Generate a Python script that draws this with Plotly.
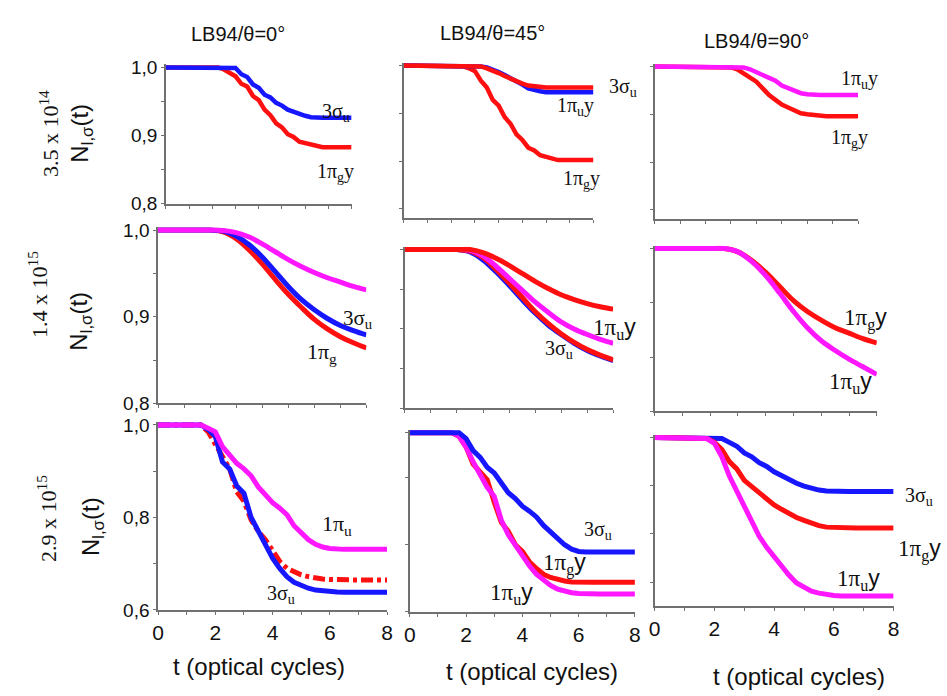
import plotly.graph_objects as go

W, H = 947, 696

# ---------------- data ----------------
T = [0, 0.25, 0.5, 0.75, 1, 1.25, 1.5, 1.75, 2, 2.25, 2.5, 2.75, 3, 3.25, 3.5, 3.75,
     4, 4.25, 4.5, 4.75, 5, 5.25, 5.5, 5.75, 6, 6.25, 6.5, 6.75, 7, 7.25, 7.5, 7.75, 8]
T2 = [0, 0.5, 1, 1.5, 2, 2.5, 3, 3.5, 4, 4.5, 5, 5.5, 6, 6.5, 7, 7.5, 8]

# Row 1 : 3.5 x 10^14
r1c1_3su = [1, 1, 1, 1, 1, 1, 1, 1, 1, 1, 1, 1,
            0.999, 0.990, 0.986, 0.975, 0.970, 0.960, 0.956, 0.948, 0.944, 0.938, 0.935, 0.931, 0.929, 0.927, 0.926,
            0.926, 0.926, 0.926, 0.926, 0.926, 0.926]
r1c1_1pgy = [1, 1, 1, 1, 1, 1, 1, 1, 1, 1,
             0.997, 0.992, 0.987, 0.976, 0.972, 0.958, 0.952, 0.938, 0.930, 0.918, 0.912, 0.902, 0.898, 0.891,
             0.889, 0.886, 0.884, 0.883,
             0.883, 0.883, 0.883, 0.883, 0.883]
r1c2_3su = [1, 1, 1, 1, 1, 1, 1, 1, 1, 1, 1, 1, 1,
            0.999, 0.997, 0.995, 0.992, 0.989, 0.986, 0.984, 0.981, 0.979, 0.978, 0.977,
            0.977, 0.977, 0.977, 0.977, 0.977, 0.977, 0.977, 0.977, 0.977]
r1c2_1puy = [1, 1, 1, 1, 1, 1, 1, 1, 1, 1, 1, 1, 1,
             0.999, 0.998, 0.996, 0.993, 0.990, 0.987, 0.984, 0.980, 0.976, 0.974, 0.973,
             0.972, 0.972, 0.972, 0.972, 0.972, 0.972, 0.972, 0.972, 0.972]
r1c2_1pgy = [1, 1, 1, 1, 1, 1, 1, 1, 1, 1,
             0.999, 0.997, 0.994, 0.984, 0.977, 0.964, 0.958, 0.946, 0.939, 0.928, 0.922, 0.914, 0.911, 0.906,
             0.904, 0.902, 0.901, 0.901,
             0.901, 0.901, 0.901, 0.901, 0.901]
r1c3_1puy = [1, 1, 1, 1, 1, 1, 1, 1, 1, 1, 1, 1, 1, 1,
             0.999, 0.997, 0.994, 0.991, 0.987, 0.985, 0.980, 0.977, 0.974, 0.972, 0.971, 0.970,
             0.970, 0.970, 0.970, 0.970, 0.970, 0.970, 0.970]
r1c3_1pgy = [1, 1, 1, 1, 1, 1, 1, 1, 1, 1, 1, 1,
             0.999, 0.997, 0.993, 0.988, 0.984, 0.977, 0.970, 0.965, 0.960, 0.957, 0.954, 0.951, 0.950, 0.949, 0.948,
             0.948, 0.948, 0.948, 0.948, 0.948, 0.948]

# Row 2 : 1.4 x 10^15 (smooth, sampled every half cycle)
r2c1_1pu = [1, 1, 1, 1, 1, 0.9995, 0.997, 0.992, 0.984, 0.975, 0.966, 0.958, 0.951, 0.945, 0.940, 0.935, 0.931]
r2c1_3su = [1, 1, 1, 1, 1, 0.999, 0.993, 0.983, 0.969, 0.952, 0.935, 0.920, 0.908, 0.898, 0.890, 0.884, 0.879]
r2c1_1pg = [1, 1, 1, 1, 1, 0.998, 0.990, 0.977, 0.961, 0.943, 0.926, 0.911, 0.897, 0.886, 0.877, 0.870, 0.864]
r2c2_top = [1, 1, 1, 1, 1, 1, 0.996, 0.989, 0.980, 0.970, 0.960, 0.951, 0.943, 0.937, 0.932, 0.928, 0.925]
r2c2_1puy = [1, 1, 1, 1, 1, 0.999, 0.992, 0.979, 0.964, 0.949, 0.934, 0.921, 0.909, 0.900, 0.893, 0.887, 0.882]
r2c2_1pg = [1, 1, 1, 1, 1, 0.998, 0.990, 0.975, 0.958, 0.940, 0.922, 0.907, 0.894, 0.883, 0.874, 0.867, 0.861]
r2c2_3su = [1, 1, 1, 1, 1, 0.997, 0.987, 0.972, 0.955, 0.937, 0.920, 0.905, 0.893, 0.882, 0.873, 0.866, 0.860]
r2c3_1puy = [1, 1, 1, 1, 1, 1, 0.997, 0.988, 0.975, 0.959, 0.942, 0.927, 0.915, 0.906, 0.898, 0.891, 0.884]
r2c3_1pgy = [1, 1, 1, 1, 1, 1, 0.997, 0.989, 0.978, 0.965, 0.952, 0.942, 0.934, 0.927, 0.922, 0.917, 0.913]

# Row 3 : 2.9 x 10^15
r3c1_1pu = [1, 1, 1, 1, 1, 1, 1,
            0.993, 0.985, 0.953, 0.935, 0.917, 0.905, 0.890, 0.866, 0.848, 0.832, 0.820, 0.806, 0.782, 0.768,
            0.752, 0.742, 0.736, 0.733, 0.731,
            0.731, 0.731, 0.731, 0.731, 0.731, 0.731, 0.731]
r3c1_3su = [1, 1, 1, 1, 1, 1, 1,
            0.990, 0.975, 0.920, 0.905, 0.868, 0.852, 0.800, 0.770, 0.740, 0.712, 0.690, 0.672, 0.660, 0.652,
            0.647, 0.643, 0.641, 0.640, 0.639,
            0.6385, 0.6385, 0.6385, 0.6385, 0.6385, 0.6385, 0.6385]
r3c1_red = [1, 1, 1, 1, 1, 1, 1,
            0.985, 0.960, 0.930, 0.905, 0.855, 0.835, 0.795, 0.770, 0.752, 0.728, 0.705, 0.690, 0.682, 0.676,
            0.672, 0.669, 0.667, 0.666, 0.665,
            0.665, 0.665, 0.665, 0.665, 0.665, 0.665, 0.665]
r3c2_3su = [1, 1, 1, 1, 1, 1, 1, 1,
            0.987, 0.960, 0.945, 0.923, 0.910, 0.890, 0.866, 0.853, 0.836, 0.825, 0.812, 0.793, 0.778, 0.763,
            0.750, 0.740, 0.735, 0.734,
            0.734, 0.734, 0.734, 0.734, 0.734, 0.734, 0.734]
r3c2_1pgy = [1, 1, 1, 1, 1, 1, 1,
             0.992, 0.968, 0.930, 0.912, 0.895, 0.845, 0.800, 0.780, 0.750, 0.735, 0.712, 0.697, 0.684, 0.677,
             0.672, 0.669, 0.667, 0.666, 0.666,
             0.666, 0.666, 0.666, 0.666, 0.666, 0.666, 0.666]
r3c2_1puy = [1, 1, 1, 1, 1, 1, 1,
             0.992, 0.968, 0.935, 0.905, 0.878, 0.858, 0.805, 0.772, 0.748, 0.722, 0.703, 0.684, 0.670, 0.659,
             0.651, 0.646, 0.643, 0.641, 0.640,
             0.640, 0.640, 0.640, 0.640, 0.640, 0.640, 0.640]
r3c3_3su = [1, 1, 1, 1, 1, 1, 1, 1, 1,
            0.998, 0.990, 0.982, 0.968, 0.960, 0.948, 0.940, 0.929, 0.921, 0.912, 0.905, 0.899, 0.894, 0.891, 0.889,
            0.888, 0.888, 0.888, 0.888, 0.888, 0.888, 0.888, 0.888, 0.888]
r3c3_1pgy = [1, 1, 1, 1, 1, 1, 1,
             0.998, 0.990, 0.975, 0.950, 0.935, 0.911, 0.898, 0.884, 0.872, 0.860, 0.851, 0.842, 0.834, 0.828,
             0.822, 0.817, 0.814, 0.813, 0.812,
             0.812, 0.812, 0.812, 0.812, 0.812, 0.812, 0.812]
r3c3_1puy = [1, 1, 1, 1, 1, 1, 1,
             0.998, 0.988, 0.960, 0.920, 0.888, 0.858, 0.822, 0.795, 0.772, 0.752, 0.732, 0.714, 0.698, 0.688,
             0.681, 0.677, 0.674, 0.672, 0.671,
             0.671, 0.671, 0.671, 0.671, 0.671, 0.671, 0.671]

# tick values
X_ALL_TICKS = [0, 1, 2, 3, 4, 5, 6, 7, 8]
X_LABEL_TICKS = [0, 2, 4, 6, 8]
X_MINOR_TICKS = [1, 3, 5, 7]

COL_TITLES = ["LB94/θ=0°", "LB94/θ=45°", "LB94/θ=90°"]
ROW_LABELS = ["3.5 x 10<sup>14</sup>", "1.4 x 10<sup>15</sup>", "2.9 x 10<sup>15</sup>"]

# ---------------- style ----------------
RED = "#ff1010"
BLUE = "#1616ff"
MAG = "#ff18ff"
AX = "#707070"
SANS = "Liberation Sans, Arial, sans-serif"
SERIF = "Liberation Serif, Times New Roman, serif"

# panel geometry in pixels: (x0, x1, y_top(=1.0), y_bottom), ymin,
# labelled y ticks (values, texts), minor y ticks, show x labels
panels = [
    ((162, 350, 62, 202), 0.80, ([0.8, 0.9, 1.0], ["0,8", "0,9", "1,0"]), [0.85, 0.95], False),
    ((403, 595, 60, 217), 0.84, None, [0.85, 0.9, 0.95, 1.0], False),
    ((657, 863, 61, 218), 0.84, None, [0.85, 0.9, 0.95, 1.0], False),
    ((154, 365, 229, 407), 0.80, ([0.8, 0.9, 1.0], ["0,8", "0,9", "1,0"]), [0.85, 0.95], False),
    ((404, 615, 249, 412), 0.80, None, [0.8, 0.85, 0.9, 0.95, 1.0], False),
    ((657, 882, 248, 415), 0.85, None, [0.85, 0.9, 0.95, 1.0], False),
    ((154, 386, 429, 619), 0.60, ([0.6, 0.8, 1.0], ["0,6", "0,8", "1,0"]), [0.7, 0.9], True),
    ((409, 637, 437, 621), 0.60, None, [0.6, 0.75, 0.9, 1.0], True),
    ((657, 899, 442, 615), 0.65, None, [0.7, 0.8, 0.9, 1.0], True),
]

fig = go.Figure()

# traces: (panel index, x, y, color, width, dash)
traces = [
    (0, T, r1c1_1pgy, RED, 4.5, None),
    (0, T, r1c1_3su, BLUE, 4.5, None),
    (1, T, r1c2_1pgy, RED, 4.5, None),
    (1, T, r1c2_1puy, BLUE, 4.5, None),
    (1, T, r1c2_3su, RED, 4.5, None),
    (2, T, r1c3_1pgy, RED, 4.5, None),
    (2, T, r1c3_1puy, MAG, 4.5, None),
    (3, T2, r2c1_1pg, RED, 5, None),
    (3, T2, r2c1_3su, BLUE, 5, None),
    (3, T2, r2c1_1pu, MAG, 5, None),
    (4, T2, r2c2_3su, BLUE, 5, None),
    (4, T2, r2c2_1pg, RED, 5, None),
    (4, T2, r2c2_1puy, MAG, 5, None),
    (4, T2, r2c2_top, RED, 5, None),
    (5, T2, r2c3_1pgy, RED, 5, None),
    (5, T2, r2c3_1puy, MAG, 5, None),
    (6, T, r3c1_red, RED, 5, "12px,4px,4px,4px"),
    (6, T, r3c1_3su, BLUE, 5, None),
    (6, T, r3c1_1pu, MAG, 5, None),
    (7, T, r3c2_1pgy, RED, 5, None),
    (7, T, r3c2_1puy, MAG, 5, None),
    (7, T, r3c2_3su, BLUE, 5, None),
    (8, T, r3c3_3su, BLUE, 5, None),
    (8, T, r3c3_1pgy, RED, 5, None),
    (8, T, r3c3_1puy, MAG, 5, None),
]

for p, xs, ys, col, w, dash in traces:
    sfx = "" if p == 0 else str(p + 1)
    shape = "spline" if xs is T2 else "linear"
    fig.add_trace(go.Scatter(
        x=xs, y=ys, mode="lines", xaxis="x" + sfx, yaxis="y" + sfx,
        line=dict(color=col, width=w, dash=dash, shape=shape),
        showlegend=False, hoverinfo="skip"))

PAD = 3  # px above 1.0 so flat lines are not clipped
TICK = dict(ticks="outside", ticklen=3, tickwidth=1, tickcolor=AX)
layout = {}
for i, ((x0, x1, yt, yb), ymin, ylab, yminor, xlab) in enumerate(panels):
    sfx = "" if i == 0 else str(i + 1)
    ppu = (yb - yt) / (1.0 - ymin)
    ymax = 1.0 + PAD / ppu
    xa = dict(domain=[x0 / W, x1 / W], range=[0, 8], anchor="y" + sfx,
              showline=True, linecolor=AX, linewidth=1.5,
              showgrid=False, zeroline=False, fixedrange=True, **TICK)
    if xlab:
        xa.update(tickvals=X_LABEL_TICKS, ticktext=[str(v) for v in X_LABEL_TICKS],
                  showticklabels=True, tickfont=dict(family=SANS, size=21, color="#111"),
                  minor=dict(tickvals=X_MINOR_TICKS, showgrid=False, **TICK))
    else:
        xa.update(tickvals=X_ALL_TICKS, showticklabels=False)
    ya = dict(domain=[1 - yb / H, 1 - (yt - PAD) / H], range=[ymin, ymax], anchor="x" + sfx,
              showline=True, linecolor=AX, linewidth=1.5,
              showgrid=False, zeroline=False, fixedrange=True, **TICK)
    if ylab:
        ya.update(tickvals=ylab[0], ticktext=ylab[1], showticklabels=True,
                  tickfont=dict(family=SANS, size=19, color="#111"),
                  minor=dict(tickvals=yminor, showgrid=False, **TICK))
    else:
        ya.update(tickvals=yminor, showticklabels=False)
    layout["xaxis" + sfx] = xa
    layout["yaxis" + sfx] = ya

fig.update_layout(**layout)


def P(x, y):
    return x / W, 1 - y / H


annotations = []


def ann(text, x, y, size, family, angle=0, color="#111"):
    px, py = P(x, y)
    annotations.append(dict(text=text, x=px, y=py, xref="paper", yref="paper",
                            xanchor="center", yanchor="middle", showarrow=False,
                            textangle=angle, font=dict(family=family, size=size, color=color)))


# column titles
ann(COL_TITLES[0], 235, 28, 20, SANS)
ann(COL_TITLES[1], 493, 27, 20, SANS)
ann(COL_TITLES[2], 760, 35, 20, SANS)

# row labels and y titles
ann(ROW_LABELS[0], 43, 130, 22, SERIF, -90)
ann(ROW_LABELS[1], 33, 295, 22, SERIF, -90)
ann(ROW_LABELS[2], 42, 525, 22, SERIF, -90)
NLAB = "N<sub>l,σ</sub>(t)"
ann(NLAB, 77, 130, 24, SANS, -90)
ann(NLAB, 76, 323, 24, SANS, -90)
ann(NLAB, 87, 533, 24, SANS, -90)

# x titles
ann("t (optical cycles)", 256, 677, 24, SANS)
ann("t (optical cycles)", 533, 682, 24, SANS)
ann("t (optical cycles)", 803, 687, 24, SANS)

Y = '<span style="font-family:Liberation Sans, Arial, sans-serif">y</span>'
S3 = "3σ<sub>u</sub>"
PG = "1π<sub>g</sub>"
PU = "1π<sub>u</sub>"

# curve labels
ann(S3, 334, 108, 20, SERIF)
ann(PG + "y", 334, 170, 20, SERIF)
ann(S3, 625, 83, 20, SERIF)
ann(PU + "y", 577, 102, 20, SERIF)
ann(PG + "y", 583, 177, 20, SERIF)
ann(PU + "y", 864, 74, 20, SERIF)
ann(PG + "y", 854, 135, 20, SERIF)
ann(S3, 357, 320, 21, SERIF)
ann(PG, 320, 355, 22, SERIF)
ann(PU + Y, 616, 330, 23, SERIF)
ann(S3, 560, 352, 20, SERIF)
ann(PG + Y, 871, 320, 23, SERIF)
ann(PU + Y, 855, 385, 23, SERIF)
ann(PU, 335, 532, 22, SERIF)
ann(S3, 279, 603, 20, SERIF)
ann(S3, 600, 537, 20, SERIF)
ann(PG + Y, 566, 572, 23, SERIF)
ann(PU + Y, 512, 602, 23, SERIF)
ann(S3, 925, 502, 20, SERIF)
ann(PG + Y, 925, 557, 23, SERIF)
ann(PU + Y, 863, 588, 23, SERIF)

fig.update_layout(
    width=W, height=H, margin=dict(l=0, r=0, t=0, b=0),
    paper_bgcolor="white", plot_bgcolor="white",
    annotations=annotations, showlegend=False)

fig.write_html("out.html", config={"displayModeBar": False},
               post_script="document.body.style.margin='0';")
